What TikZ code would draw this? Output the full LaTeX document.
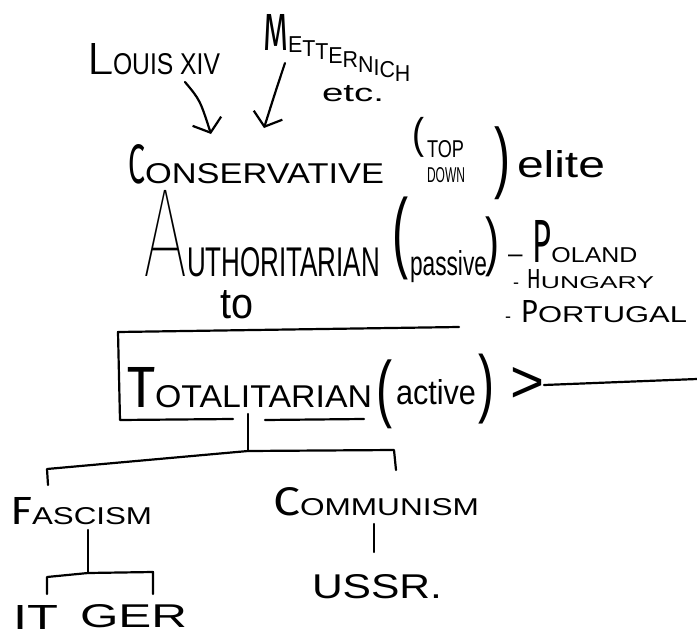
\documentclass[tikz,border=0pt]{standalone}
\usepackage{graphicx}
\usepackage{fontspec}
\setmainfont{Liberation Sans}
\newfontfamily\thinf{Fira Sans}
\newfontfamily\lightf{Fira Sans Light}
\newfontfamily\hairf{Fira Sans Thin}
\usetikzlibrary{arrows.meta}
% big initial + small-caps style rest
\newcommand{\bs}[6]{\resizebox{#1}{#2}{\thinf #3}\resizebox{#4}{#5}{#6}}
\newcommand{\dl}[2]{\raisebox{-#1pt}{#2}}
\tikzset{
  pen/.style={line width=2.2pt, line cap=round, line join=round},
  handarrow/.style={pen, -{Straight Barb[length=12pt,width=30pt]}},
  txt/.style={inner sep=0pt, outer sep=0pt, anchor=base west},
  paren/.style={inner sep=0pt, outer sep=0pt, anchor=center}
}
\begin{document}
\begin{tikzpicture}[x=1pt,y=-1pt]
\useasboundingbox (0,0) rectangle (697,637);
\fill[white] (0,0) rectangle (697,637);

% top sources
\node[txt] (louis) at (85,74) {\resizebox{28pt}{31pt}{\lightf L}\resizebox{107pt}{21pt}{OUIS XIV}};
\node[txt] (mett) at (263,50) {\resizebox{25pt}{36pt}{\thinf M}\scalebox{0.93}[1]{\fontsize{23pt}{23pt}\selectfont
  \dl{2}{E}\dl{6}{T}\dl{9.5}{T}\dl{13.5}{E}\dl{17.5}{R}\dl{22}{N}\dl{25}{I}\dl{27.5}{C}\dl{31}{H}}};
\node[txt] (etc) at (322,101) {\resizebox{62pt}{16pt}{etc.}};

% conservative line
\node[txt] (cons) at (128,183) {\bs{17pt}{39pt}{C}{239pt}{20pt}{ONSERVATIVE}};
\node[paren] (tdl) at (418,137) {\resizebox*{12pt}{40pt}{(}};
\node[txt] (top) at (427,157) {\resizebox{37pt}{17pt}{TOP}};
\node[txt] (down) at (427,182) {\resizebox{38pt}{15pt}{DOWN}};
\node[paren] (tdr) at (502,163) {\resizebox*{16pt}{73pt}{)}};
\node[txt] (elite) at (517,177) {\resizebox{88pt}{27pt}{elite}};

% arrows into conservative
\coordinate (a1s) at (185,82);
\coordinate (a1e) at (211,134);
\coordinate (a2s) at (285,63);
\coordinate (a2e) at (264,128);
\draw[handarrow] (a1s) .. controls (200,100) .. (a1e);
\draw[handarrow] (a2s) .. controls (276,90) .. (a2e);

% authoritarian line
\node[txt] (auth) at (143,276) {\resizebox{44pt}{86pt}{\hairf A}\resizebox{193pt}{29pt}{UTHORITARIAN}};
\node[paren] (pl) at (400,238) {\resizebox*{16pt}{83pt}{(}};
\node[txt] (pass) at (410,275) {\resizebox{77pt}{25pt}{passive}};
\node[paren] (pr) at (492,247) {\resizebox*{14pt}{60pt}{)}};
\node[txt] (pol) at (508,262) {{\fontsize{26pt}{26pt}\selectfont –}\hspace{10pt}\bs{19pt}{42pt}{P}{86pt}{15pt}{OLAND}};
\node[txt] (hun) at (513,288) {{\fontsize{18pt}{18pt}\selectfont -}\hspace{8pt}\bs{14pt}{19pt}{H}{113pt}{12pt}{UNGARY}};
\node[txt] (por) at (505,322) {{\fontsize{18pt}{18pt}\selectfont -}\hspace{10pt}\bs{17pt}{22pt}{P}{149pt}{16pt}{ORTUGAL}};

\node[txt] (to) at (220,318) {\resizebox{33pt}{28pt}{to}};

% totalitarian box
\draw[pen] (459,327) -- (118,332) -- (120,420) -- (233,419);
\draw[pen] (265,420) -- (364,419);
\node[txt] (tot) at (127,407) {\bs{28pt}{40pt}{T}{217pt}{22pt}{OTALITARIAN}};
\node[paren] (al) at (384,394) {\resizebox*{16pt}{69pt}{(}};
\node[txt] (act) at (396,404) {\resizebox{80pt}{25pt}{active}};
\node[paren] (ar) at (486,389) {\resizebox*{16pt}{70pt}{)}};
\node[paren] (gt) at (527,385) {\resizebox*{34pt}{35pt}{>}};
\coordinate (rightend) at (697,379);
\draw[pen] (gt.east) -- (rightend);

% tree
\coordinate (boxgap) at (248,414);
\coordinate (tj) at (248,451);
\coordinate (tl) at (47,469);
\coordinate (tlb) at (48,485);
\coordinate (tr) at (394,450);
\coordinate (trb) at (396,470);
\draw[pen] (boxgap) -- (tj);
\draw[pen] (tlb) -- (tl) -- (tj) -- (tr) -- (trb);

\node[txt] (fasc) at (10,524) {\bs{22pt}{27pt}{F}{120pt}{17pt}{ASCISM}};
\node[txt] (comm) at (273,515) {\bs{27pt}{28pt}{C}{179pt}{17pt}{OMMUNISM}};

\coordinate (fv1) at (88,530);
\coordinate (fv2) at (88,573);
\draw[pen] (fv1) -- (fv2);
\coordinate (sl) at (47,577);
\coordinate (slb) at (47,594);
\coordinate (sr) at (153,572);
\coordinate (srb) at (153,594);
\draw[pen] (slb) -- (sl) -- (fv2) -- (sr) -- (srb);

\coordinate (cv1) at (374,524);
\coordinate (cv2) at (374,552);
\draw[pen] (cv1) -- (cv2);

\node[txt] (it) at (13,629) {\resizebox{45pt}{24pt}{IT}};
\node[txt] (ger) at (80,627) {\resizebox{107pt}{23pt}{GER}};
\node[txt] (ussr) at (312,598) {\resizebox{130pt}{24pt}{USSR.}};
\end{tikzpicture}
\end{document}
